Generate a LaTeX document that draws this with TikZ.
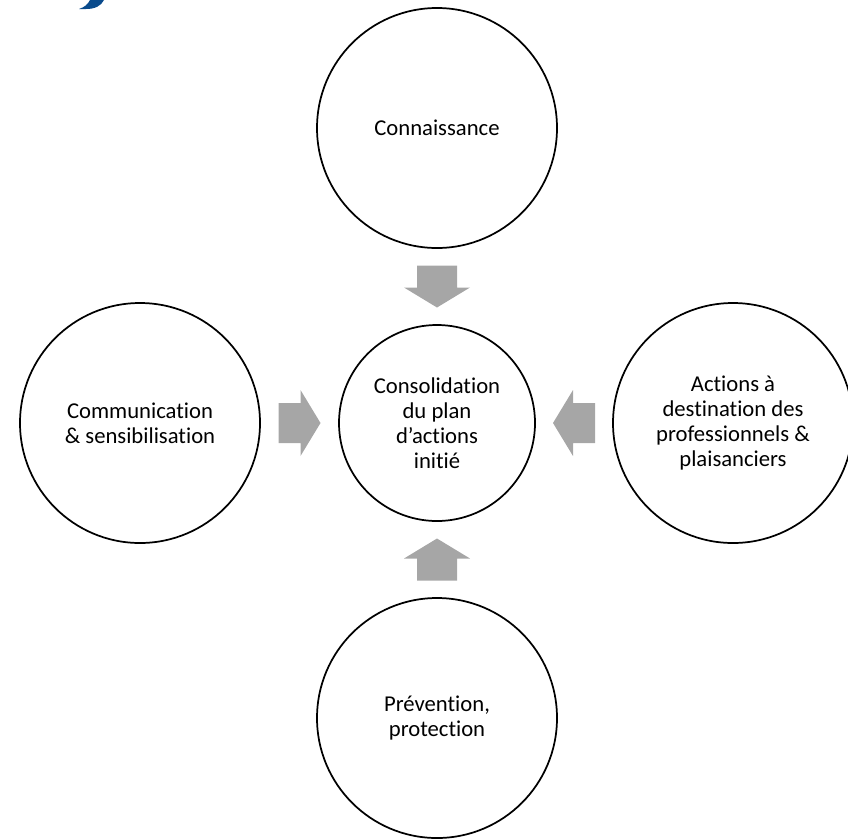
\documentclass[tikz,border=0pt]{standalone}
\usepackage{fontspec}
\setmainfont{Carlito}[Ligatures=NoCommon]
\usetikzlibrary{calc}

\definecolor{arrowgray}{HTML}{A6A6A6}
\definecolor{titleblue}{RGB}{10,75,140}

\tikzset{
  bigcircle/.style={circle, draw=black, line width=1.3pt, minimum size=180pt,
    inner sep=0pt, outer sep=0pt, align=center,
    font=\fontsize{17}{18.75}\selectfont},
  midcircle/.style={bigcircle, minimum size=147pt},
  fatarrow/.style={fill=arrowgray}
}

\begin{document}
\begin{tikzpicture}[x=0.75pt, y=-0.75pt]

% Frame of the picture
\useasboundingbox (0,0) rectangle (848,839);
\clip (0,0) rectangle (848,839);

% Bit of the blue title above
\fill[titleblue] (90,0) -- (104,0) .. controls (101,6) and (95,9) .. (86,9)
  -- (79,9) .. controls (85,7) and (88,4) .. (90,0) -- cycle;

% Centre circle
\node[midcircle] (ctr) at (437,423) {Consolidation\\du plan\\d’actions\\initié};

% Outer circles
\node[bigcircle] (top) at (437,128) {Connaissance};
\node[bigcircle] (left) at (140,423) {Communication\\\& sensibilisation};
\node[bigcircle] (right) at (733,423) {Actions à\\destination des\\professionnels \&\\plaisanciers};
\node[bigcircle] (bottom) at (437,718) {Prévention,\\protection};

% Places of the arrows, between the circles
\coordinate (aT) at ($(top.south)!0.5!(ctr.north)$);
\coordinate (aL) at ($(left.east)!0.5!(ctr.west)$);
\coordinate (aR) at ($(right.west)!0.5!(ctr.east)$);
\coordinate (aB) at ($(bottom.north)!0.5!(ctr.south)$);

% Arrows pointing to the centre
\foreach \pos/\ang in {aT/-90, aL/0, aR/180, aB/90}
  \fill[fatarrow, shift={(\pos)}, rotate=\ang]
    (-21,-20) -- (1,-20) -- (1,-33) -- (21,0) -- (1,33) -- (1,20) -- (-21,20) -- cycle;

\end{tikzpicture}
\end{document}
